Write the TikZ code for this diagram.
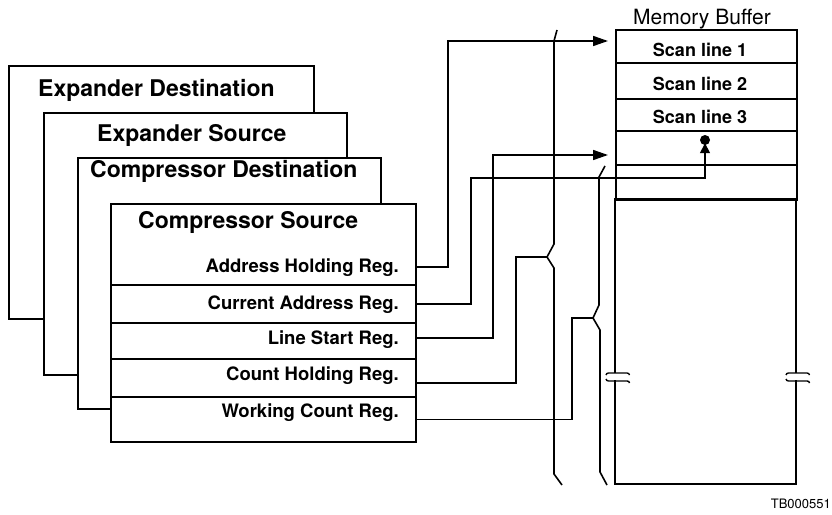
\documentclass[tikz,border=0pt]{standalone}
\usepackage{fontspec}
\setmainfont{TeX Gyre Heros}
\usetikzlibrary{arrows.meta}
\begin{document}
\begin{tikzpicture}[x=1pt,y=-1pt,
 panel/.style={draw,line width=2.2pt,fill=white,inner sep=0pt,anchor=north west},
 ptitle/.style={font=\fontsize{23}{25}\selectfont\bfseries,anchor=base west,inner sep=0pt},
 reglabel/.style={font=\fontsize{18.5}{20}\selectfont\bfseries,anchor=base east,inner sep=0pt},
 regrow/.style={draw,line width=2.2pt,inner sep=0pt,anchor=north west,minimum width=305pt},
 conn/.style={line width=1.6pt},
 arr/.style={conn,-{Triangle[length=15pt,width=10pt]}},
 memrow/.style={draw,line width=2.2pt,inner sep=0pt,anchor=north west,minimum width=181pt},
 scan/.style={font=\fontsize{18}{20}\selectfont\bfseries,anchor=base,inner sep=0pt},
 bus/.style={line width=1.6pt},
 brk/.style={line width=1.4pt}]
\useasboundingbox (0,0) rectangle (832,514);
% stacked panels
\node[panel,minimum width=305pt,minimum height=253pt] (ed) at (8,65) {};
\node[ptitle] (edt) at (38,96) {Expander Destination};
\node[panel,minimum width=303pt,minimum height=262pt] (es) at (43,112) {};
\node[ptitle] (est) at (97,141) {Expander Source};
\node[panel,minimum width=303pt,minimum height=251pt] (cd) at (77,157) {};
\node[ptitle] (cdt) at (90,177) {Compressor Destination};
\node[panel,minimum width=305pt,minimum height=238pt] (cs) at (110,203) {};
\node[ptitle] (cst) at (138,228) {Compressor Source};
% register rows
\node[regrow,minimum height=38pt] (r2) at (110,284) {};
\node[regrow,minimum height=36pt] (r3) at (110,322) {};
\node[regrow,minimum height=38pt] (r4) at (110,358) {};
\node[regrow,minimum height=45pt] (r5) at (110,396) {};
\node[reglabel] (l1) at (399,272) {Address Holding Reg.};
\node[reglabel] (l2) at (399,309) {Current Address Reg.};
\node[reglabel] (l3) at (399,344) {Line Start Reg.};
\node[reglabel] (l4) at (399,380) {Count Holding Reg.};
\node[reglabel] (l5) at (399,417) {Working Count Reg.};
% memory buffer
\node[font=\fontsize{21}{23}\selectfont,anchor=base,inner sep=0pt] (mbt) at (702,24) {Memory Buffer};
\node[memrow,minimum height=33pt] (m1) at (615,29) {};
\node[memrow,minimum height=36pt] (m2) at (615,62) {};
\node[memrow,minimum height=32pt] (m3) at (615,98) {};
\node[memrow,minimum height=34pt] (m4) at (615,130) {};
\node[memrow,minimum height=35pt] (m5) at (615,164) {};
\node[scan] (s1) at (700,56) {Scan line 1};
\node[scan] (s2) at (700,90) {Scan line 2};
\node[scan] (s3) at (700,123) {Scan line 3};
\draw[line width=2.2pt] (615,373) -- (615,199) -- (796,199) -- (796,373);
\draw[line width=2.2pt] (615,380) -- (615,484) -- (796,484) -- (796,380);
% break marks
\draw[brk] (606,375) to[out=80,in=180] (608.5,373) -- (627,373) to[out=0,in=100] (629.5,375);
\draw[brk] (606,379) to[out=-80,in=180] (608.5,381) -- (627,381) to[out=0,in=80] (629.5,383);
\draw[brk] (786,375) to[out=80,in=180] (788.5,373) -- (807,373) to[out=0,in=100] (809.5,375);
\draw[brk] (786,379) to[out=-80,in=180] (788.5,381) -- (807,381) to[out=0,in=80] (809.5,383);
% coordinates
\coordinate (t1) at (608,41);
\coordinate (t2) at (608,155);
\coordinate (z1) at (547,257);
\coordinate (z2) at (593,318);
\node[circle,fill,inner sep=0pt,minimum size=10pt] (pin) at (705,140) {};
% bus lines
\draw[bus] (557,30) -- (554,41) -- (554,244) -- (z1) -- (554,268) -- (554,474) -- (562,485);
\draw[bus] (605,166) -- (599,177) -- (599,305) -- (z2) -- (600,330) -- (600,472) -- (607,485);
% connectors
\draw[arr] (l1.east -| cs.east) -| (448,41) -- (t1);
\draw[conn,-{Triangle[length=10pt,width=10pt]}] (r2.east) -| (471,178) -| ([yshift=2pt]pin.south);
\draw[arr] ([yshift=3pt]r3.east) -| (493,155) -- (t2);
\draw[conn] ([yshift=-5pt]r4.east) -| (516,257) -- (z1);
\draw[conn] (r5.east) -| (572,318) -- (z2);
\node[font=\fontsize{13}{15}\selectfont,anchor=base east,inner sep=0pt] (tb) at (831,508) {TB000551};
\end{tikzpicture}
\end{document}
